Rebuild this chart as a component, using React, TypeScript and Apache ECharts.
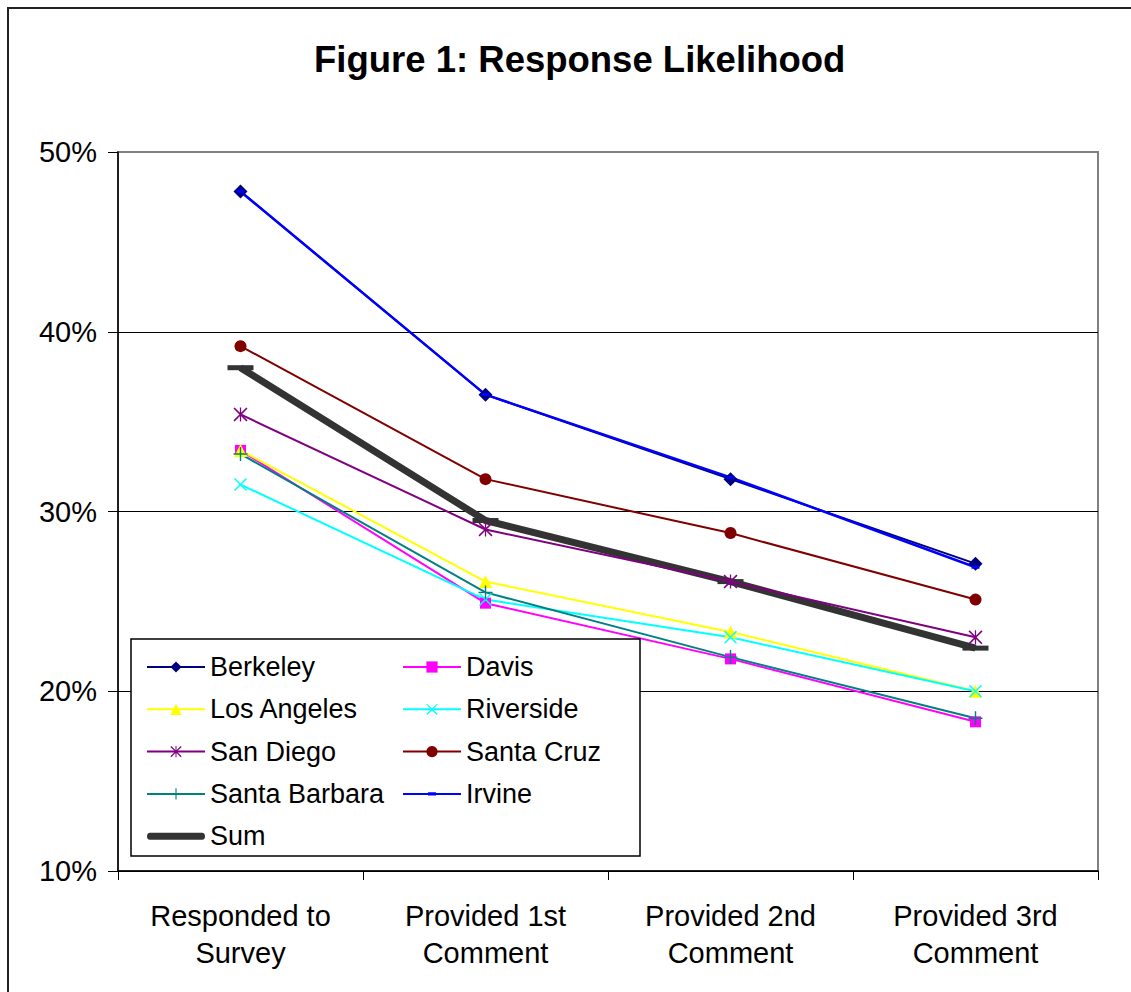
import React, { useEffect, useRef } from "react";
import * as echarts from "echarts";

const categories = ["Responded to\nSurvey", "Provided 1st\nComment", "Provided 2nd\nComment", "Provided 3rd\nComment"];
const yTicks = [10, 20, 30, 40, 50];

const berkeley = [47.8, 36.5, 31.8, 27.1];
const davis = [33.4, 24.9, 21.8, 18.3];
const losAngeles = [33.4, 26.1, 23.3, 20.0];
const riverside = [31.5, 25.1, 23.0, 20.0];
const sanDiego = [35.4, 29.0, 26.1, 23.0];
const santaCruz = [39.2, 31.8, 28.8, 25.1];
const santaBarbara = [33.2, 25.5, 21.9, 18.5];
const irvine = [47.8, 36.5, 31.9, 26.9];
const sum = [38.0, 29.5, 26.1, 22.4];

const FONT = "'Liberation Sans', Arial, sans-serif";

const X_PATH = "path://M0,1.6 L1.6,0 L10,8.4 L18.4,0 L20,1.6 L11.6,10 L20,18.4 L18.4,20 L10,11.6 L1.6,20 L0,18.4 L8.4,10 Z";
const AST_PATH = "path://M0,1.6 L1.6,0 L10,8.4 L18.4,0 L20,1.6 L11.6,10 L20,18.4 L18.4,20 L10,11.6 L1.6,20 L0,18.4 L8.4,10 Z M9.1,0 L10.9,0 L10.9,20 L9.1,20 Z";
const PLUS_PATH = "path://M9,0 L11,0 L11,9 L20,9 L20,11 L11,11 L11,20 L9,20 L9,11 L0,11 L0,9 L9,9 Z";
const IRVINE_ICON = "path://M0,1 L58,1 L58,3 L0,3 Z M25,0.3 L33,0.3 L33,3.7 L25,3.7 Z";
const SUM_ICON = "path://M3,0 L55,0 Q58,0 58,3.5 Q58,7 55,7 L3,7 Q0,7 0,3.5 Q0,0 3,0 Z";

function mk(name: string, data: number[], color: string, symbol: any, symbolSize: any, width = 2, z = 2) {
  return {
    name,
    type: "line",
    data,
    symbol,
    symbolSize,
    showAllSymbol: true,
    z,
    lineStyle: { color, width },
    itemStyle: { color, borderWidth: 0 },
    emphasis: { disabled: true },
  };
}

export default function App() {
  const ref = useRef<HTMLDivElement>(null);
  useEffect(() => {
    document.body.style.margin = "0";
    const chart = echarts.init(ref.current!, null, { renderer: "svg" });
    const legendCommon = {
      orient: "vertical",
      top: 648,
      itemGap: 14.3,
      itemWidth: 58,
      itemHeight: 14,
      selectedMode: false,
      symbolKeepAspect: true,
      z: 5,
      textStyle: { fontSize: 27, lineHeight: 28, fontFamily: FONT, color: "#000" },
    };
    chart.setOption({
      animation: false,
      backgroundColor: "#fff",
      title: {
        text: "Figure 1: Response Likelihood",
        left: 309,
        top: 36,
        textStyle: { fontSize: 36.5, fontWeight: "bold", fontFamily: FONT, color: "#000", lineHeight: 36 },
      },
      grid: { left: 118, right: 33, top: 152, bottom: 121, show: true, borderColor: "#808080", borderWidth: 2, backgroundColor: "transparent" },
      legend: [
        {
          ...legendCommon,
          left: 141,
          data: ["Berkeley", "Los Angeles", "San Diego", "Santa Barbara", { name: "Sum", icon: SUM_ICON }],
        },
        {
          ...legendCommon,
          left: 397,
          data: ["Davis", "Riverside", "Santa Cruz", { name: "Irvine", icon: IRVINE_ICON }],
        },
      ],
      graphic: [
        { type: "rect", z: 0, shape: { x: 8, y: 8, width: 1140, height: 1010 }, style: { fill: "none", stroke: "#222", lineWidth: 2 } },
        { type: "rect", z: 4, shape: { x: 131, y: 639, width: 509, height: 217 }, style: { fill: "#fff", stroke: "#000", lineWidth: 1.5 } },
      ],
      xAxis: {
        type: "category",
        data: categories,
        boundaryGap: true,
        axisLine: { lineStyle: { color: "#000", width: 1.5 } },
        axisTick: { show: true, length: 9, lineStyle: { color: "#000" } },
        axisLabel: { interval: 0, margin: 26, fontSize: 29, lineHeight: 37, fontFamily: FONT, color: "#000" },
      },
      yAxis: {
        type: "value",
        min: yTicks[0],
        max: yTicks[yTicks.length - 1],
        interval: 10,
        axisLine: { show: true, lineStyle: { color: "#000", width: 1.5 } },
        axisTick: { show: true, length: 10, lineStyle: { color: "#000" } },
        axisLabel: { formatter: "{value}%", margin: 21, fontSize: 29, fontFamily: FONT, color: "#000" },
        splitLine: { show: true, showMaxLine: false, lineStyle: { color: "#000", width: 1 } },
      },
      series: [
        mk("Berkeley", berkeley, "#000080", "diamond", 14),
        mk("Davis", davis, "#FF00FF", "rect", 11),
        mk("Los Angeles", losAngeles, "#FFFF00", "triangle", 13),
        mk("Riverside", riverside, "#00FFFF", X_PATH, 13),
        mk("San Diego", sanDiego, "#800080", AST_PATH, 14),
        mk("Santa Cruz", santaCruz, "#800000", "circle", 12),
        mk("Santa Barbara", santaBarbara, "#008080", PLUS_PATH, 14),
        mk("Irvine", irvine, "#0000FF", "rect", [8, 3], 2.5),
        mk("Sum", sum, "#333333", "rect", [26, 5], 7, 1),
      ],
    });
    return () => chart.dispose();
  }, []);
  return <div ref={ref} style={{ width: 1131, height: 992 }} />;
}
